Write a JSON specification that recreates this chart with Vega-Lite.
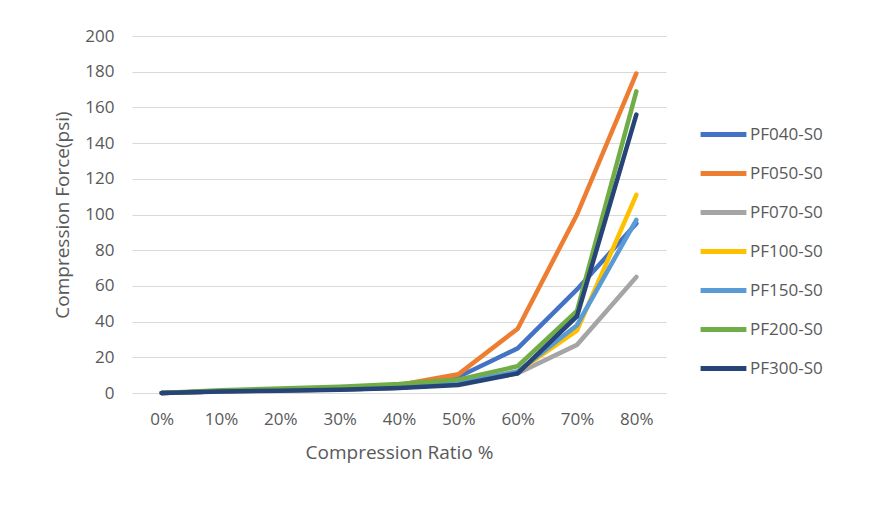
{
  "$schema": "https://vega.github.io/schema/vega-lite/v6.json",
  "width": 534,
  "height": 357,
  "autosize": "none",
  "padding": {"left": 132, "top": 36, "right": 203, "bottom": 116},
  "background": "white",
  "data": {
    "values": [
      {"series": "PF040-S0", "ratio": "0%", "force": 0},
      {"series": "PF040-S0", "ratio": "10%", "force": 1},
      {"series": "PF040-S0", "ratio": "20%", "force": 2},
      {"series": "PF040-S0", "ratio": "30%", "force": 3},
      {"series": "PF040-S0", "ratio": "40%", "force": 4},
      {"series": "PF040-S0", "ratio": "50%", "force": 9},
      {"series": "PF040-S0", "ratio": "60%", "force": 25},
      {"series": "PF040-S0", "ratio": "70%", "force": 58},
      {"series": "PF040-S0", "ratio": "80%", "force": 95},
      {"series": "PF050-S0", "ratio": "0%", "force": 0},
      {"series": "PF050-S0", "ratio": "10%", "force": 1},
      {"series": "PF050-S0", "ratio": "20%", "force": 2},
      {"series": "PF050-S0", "ratio": "30%", "force": 3},
      {"series": "PF050-S0", "ratio": "40%", "force": 4.5},
      {"series": "PF050-S0", "ratio": "50%", "force": 10.5},
      {"series": "PF050-S0", "ratio": "60%", "force": 36},
      {"series": "PF050-S0", "ratio": "70%", "force": 100},
      {"series": "PF050-S0", "ratio": "80%", "force": 179},
      {"series": "PF070-S0", "ratio": "0%", "force": 0},
      {"series": "PF070-S0", "ratio": "10%", "force": 1},
      {"series": "PF070-S0", "ratio": "20%", "force": 1.5},
      {"series": "PF070-S0", "ratio": "30%", "force": 2},
      {"series": "PF070-S0", "ratio": "40%", "force": 3},
      {"series": "PF070-S0", "ratio": "50%", "force": 5.5},
      {"series": "PF070-S0", "ratio": "60%", "force": 11},
      {"series": "PF070-S0", "ratio": "70%", "force": 27},
      {"series": "PF070-S0", "ratio": "80%", "force": 65},
      {"series": "PF100-S0", "ratio": "0%", "force": 0},
      {"series": "PF100-S0", "ratio": "10%", "force": 1},
      {"series": "PF100-S0", "ratio": "20%", "force": 1.5},
      {"series": "PF100-S0", "ratio": "30%", "force": 2},
      {"series": "PF100-S0", "ratio": "40%", "force": 3},
      {"series": "PF100-S0", "ratio": "50%", "force": 6},
      {"series": "PF100-S0", "ratio": "60%", "force": 12},
      {"series": "PF100-S0", "ratio": "70%", "force": 35},
      {"series": "PF100-S0", "ratio": "80%", "force": 111},
      {"series": "PF150-S0", "ratio": "0%", "force": 0},
      {"series": "PF150-S0", "ratio": "10%", "force": 1},
      {"series": "PF150-S0", "ratio": "20%", "force": 1.5},
      {"series": "PF150-S0", "ratio": "30%", "force": 2},
      {"series": "PF150-S0", "ratio": "40%", "force": 3},
      {"series": "PF150-S0", "ratio": "50%", "force": 6},
      {"series": "PF150-S0", "ratio": "60%", "force": 12},
      {"series": "PF150-S0", "ratio": "70%", "force": 38},
      {"series": "PF150-S0", "ratio": "80%", "force": 97},
      {"series": "PF200-S0", "ratio": "0%", "force": 0},
      {"series": "PF200-S0", "ratio": "10%", "force": 1.5},
      {"series": "PF200-S0", "ratio": "20%", "force": 2.5},
      {"series": "PF200-S0", "ratio": "30%", "force": 3.5},
      {"series": "PF200-S0", "ratio": "40%", "force": 5},
      {"series": "PF200-S0", "ratio": "50%", "force": 7.5},
      {"series": "PF200-S0", "ratio": "60%", "force": 15},
      {"series": "PF200-S0", "ratio": "70%", "force": 46},
      {"series": "PF200-S0", "ratio": "80%", "force": 169},
      {"series": "PF300-S0", "ratio": "0%", "force": 0},
      {"series": "PF300-S0", "ratio": "10%", "force": 0.8},
      {"series": "PF300-S0", "ratio": "20%", "force": 1.3},
      {"series": "PF300-S0", "ratio": "30%", "force": 1.8},
      {"series": "PF300-S0", "ratio": "40%", "force": 2.8},
      {"series": "PF300-S0", "ratio": "50%", "force": 4.5},
      {"series": "PF300-S0", "ratio": "60%", "force": 11},
      {"series": "PF300-S0", "ratio": "70%", "force": 43},
      {"series": "PF300-S0", "ratio": "80%", "force": 156}
    ]
  },
  "mark": {"type": "line", "strokeWidth": 4.5, "strokeCap": "round", "strokeJoin": "miter"},
  "encoding": {
    "x": {
      "field": "ratio",
      "type": "ordinal",
      "sort": null,
      "scale": {"paddingInner": 0, "paddingOuter": 0.5},
      "axis": {
        "title": "Compression Ratio %",
        "labelAngle": 0,
        "labelPadding": 18,
        "titlePadding": 16,
        "ticks": false,
        "domain": false,
        "grid": false
      }
    },
    "y": {
      "field": "force",
      "type": "quantitative",
      "scale": {"domain": [0, 200], "nice": false},
      "axis": {
        "title": "Compression Force(psi)",
        "values": [0, 20, 40, 60, 80, 100, 120, 140, 160, 180, 200],
        "ticks": false,
        "domain": false,
        "labelPadding": 18,
        "titlePadding": 12
      }
    },
    "color": {
      "field": "series",
      "type": "nominal",
      "scale": {
        "domain": ["PF040-S0", "PF050-S0", "PF070-S0", "PF100-S0", "PF150-S0", "PF200-S0", "PF300-S0"],
        "range": ["#4472C4", "#ED7D31", "#A5A5A5", "#FFC000", "#5B9BD5", "#70AD47", "#264478"]
      },
      "legend": {
        "title": null,
        "orient": "none",
        "legendX": 566,
        "legendY": 73,
        "symbolType": "stroke",
        "symbolSize": 2100,
        "symbolStrokeWidth": 5,
        "labelOffset": 1,
        "rowPadding": 3
      }
    }
  },
  "config": {
    "font": "Open Sans",
    "view": {"stroke": null},
    "axis": {
      "labelFont": "Open Sans",
      "titleFont": "Open Sans",
      "labelFontSize": 17,
      "titleFontSize": 19,
      "titleFontWeight": "normal",
      "labelColor": "#595959",
      "titleColor": "#595959",
      "gridColor": "#D9D9D9",
      "gridWidth": 1.2
    },
    "legend": {
      "labelFont": "Open Sans",
      "labelFontSize": 17,
      "labelColor": "#595959"
    }
  }
}
